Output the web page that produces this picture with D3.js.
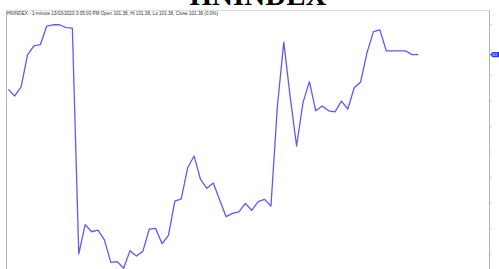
<!DOCTYPE html>
<html>
<head>
<meta charset="utf-8">
<script src="https://cdn.jsdelivr.net/npm/d3@7"></script>
<style>
  html, body { margin: 0; padding: 0; background: #fff; overflow: hidden; }
  svg { display: block; }
</style>
</head>
<body>
<svg id="chart" width="499" height="269"></svg>
<script>
// ---- data ----
const title = "HNINDEX";
const subtitle = "HNINDEX - 1-minute 13/03/2020 3:05:00 PM Open 101.38, Hi 101.38, Lo 101.38, Close 101.38 (0.0%)";
const lastValue = 101.38;
const closes = [
  101.244, 101.218, 101.254, 101.379, 101.414, 101.419, 101.492, 101.497, 101.497, 101.486,
  101.484, 100.599, 100.714, 100.686, 100.692, 100.654, 100.566, 100.569, 100.543, 100.612,
  100.591, 100.609, 100.696, 100.699, 100.639, 100.672, 100.806, 100.815, 100.937, 100.983,
  100.891, 100.856, 100.877, 100.810, 100.745, 100.758, 100.764, 100.797, 100.770, 100.804,
  100.813, 100.787, 101.176, 101.429, 101.215, 101.022, 101.192, 101.274, 101.160, 101.179,
  101.160, 101.156, 101.198, 101.167, 101.250, 101.273, 101.388, 101.470, 101.477, 101.395,
  101.395, 101.395, 101.395, 101.380, 101.380
];
const tickValues = [101.5, 101.4, 101.3, 101.2, 101.1, 101.0, 100.9, 100.8, 100.7, 100.6];

// ---- layout ----
const svg = d3.select("#chart");
const W = 499, H = 269;
const plot = { left: 6.5, right: 489.5, top: 10.5, bottom: 275 };

const x = d3.scaleLinear().domain([0, closes.length - 1]).range([8.3, 418.3]);
const y = d3.scaleLinear().domain([100.6, 101.5]).range([253.7, 24]);

// title (partially cut off at top, as in the reference)
svg.append("text")
  .attr("x", 258).attr("y", 5)
  .attr("text-anchor", "middle")
  .attr("font-family", "'Liberation Serif', 'Times New Roman', serif")
  .attr("font-weight", "bold")
  .attr("font-size", 29)
  .attr("fill", "#000")
  .text(title);

// frame
svg.append("line")
  .attr("x1", plot.left).attr("x2", plot.right)
  .attr("y1", plot.top).attr("y2", plot.top)
  .attr("stroke", "#dcdcdc").attr("stroke-width", 1);
svg.append("line")
  .attr("x1", plot.left).attr("x2", plot.left)
  .attr("y1", plot.top).attr("y2", H)
  .attr("stroke", "#b4b4b4").attr("stroke-width", 1);

// subtitle
svg.append("text")
  .attr("x", 7).attr("y", 14.6)
  .attr("font-family", "'Liberation Sans', Arial, sans-serif")
  .attr("font-size", 4.6)
  .attr("fill", "#333")
  .attr("textLength", 211)
  .attr("lengthAdjust", "spacingAndGlyphs")
  .text(subtitle);

// clip
svg.append("defs").append("clipPath").attr("id", "clip")
  .append("rect")
  .attr("x", plot.left).attr("y", plot.top)
  .attr("width", plot.right - plot.left).attr("height", plot.bottom - plot.top);

// right axis
const axis = d3.axisRight(y).tickValues(tickValues).tickSize(2).tickFormat(() => "");
const ag = svg.append("g").attr("transform", `translate(${plot.right},0)`).call(axis);
ag.select(".domain").remove();
ag.selectAll(".tick line").attr("stroke", "#c8c8c8");
svg.append("line")
  .attr("x1", plot.right).attr("x2", plot.right)
  .attr("y1", plot.top).attr("y2", H)
  .attr("stroke", "#b4b4b4").attr("stroke-width", 1);

// price line
const line = d3.line().x((d, i) => x(i)).y(d => y(d));
svg.append("path")
  .datum(closes)
  .attr("clip-path", "url(#clip)")
  .attr("fill", "none")
  .attr("stroke", "#5a5aff")
  .attr("stroke-width", 1.3)
  .attr("stroke-linejoin", "round")
  .attr("d", line);

// last value marker
const my = y(lastValue);
const mg = svg.append("g");
mg.append("path")
  .attr("d", `M${plot.right + 0.5},${my} L${plot.right + 3},${my - 2.6} L${W + 5},${my - 2.6} L${W + 5},${my + 2.6} L${plot.right + 3},${my + 2.6} Z`)
  .attr("fill", "#2a3cff");
mg.append("text")
  .attr("x", plot.right + 2.5).attr("y", my + 1.3)
  .attr("font-family", "'Liberation Sans', Arial, sans-serif")
  .attr("font-size", 3.4)
  .attr("fill", "#fff")
  .attr("textLength", 5)
  .attr("lengthAdjust", "spacingAndGlyphs")
  .text(lastValue.toFixed(2));
</script>
</body>
</html>
